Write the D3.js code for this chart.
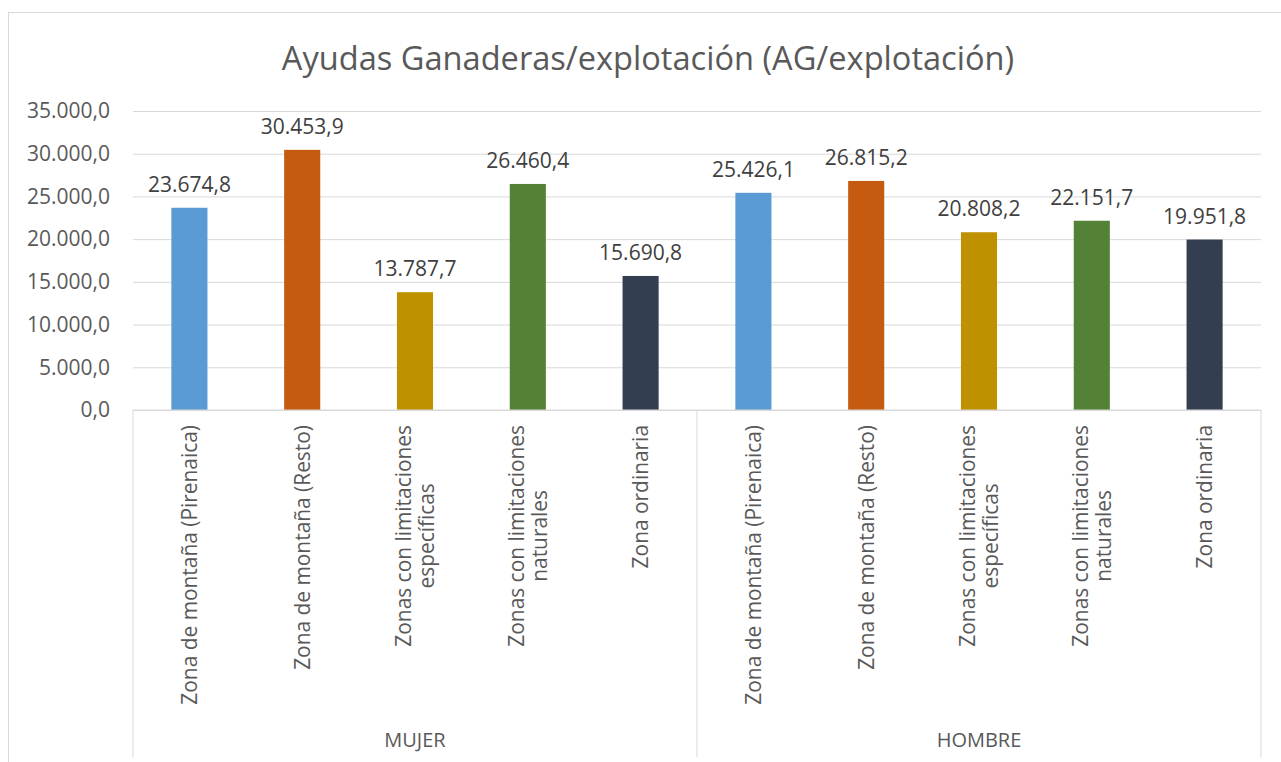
<!DOCTYPE html>
<html>
<head>
<meta charset="utf-8">
<script src="https://cdn.jsdelivr.net/npm/d3@7"></script>
<style>
  body { margin: 0; background: #fff; }
  text { font-family: "Open Sans", sans-serif; }
</style>
</head>
<body>
<div id="chart"></div>
<script>
// data
const title = 'Ayudas Ganaderas/explotación (AG/explotación)';
const groups = ['MUJER', 'HOMBRE'];
const categories = [
  'Zona de montaña (Pirenaica)',
  'Zona de montaña (Resto)',
  'Zonas con limitaciones específicas',
  'Zonas con limitaciones naturales',
  'Zona ordinaria'
];
const mujerValues = [23674.8, 30453.9, 13787.7, 26460.4, 15690.8];
const hombreValues = [25426.1, 26815.2, 20808.2, 22151.7, 19951.8];
const yTicks = [0, 5000, 10000, 15000, 20000, 25000, 30000, 35000];
const colors = ['#5B9BD5', '#C55A11', '#BF9000', '#538135', '#333F50'];

const width = 1281, height = 762;
const margin = {top: 111, right: 20, bottom: 352, left: 133};
const plotW = 1261 - margin.left;
const plotH = 410 - margin.top;
const catFont = 20.9;

const locale = d3.formatLocale({decimal: ',', thousands: '.', grouping: [3], currency: ['', '€']});
const fmt = locale.format(',.1f');

const rows = [];
groups.forEach((g, gi) => {
  const vals = gi === 0 ? mujerValues : hombreValues;
  categories.forEach((c, ci) => rows.push({key: g + '|' + c, group: g, cat: c, ci: ci, value: vals[ci]}));
});

const svg = d3.select('#chart').append('svg')
  .attr('width', width)
  .attr('height', height);

// chart frame
svg.append('rect')
  .attr('x', 8.5).attr('y', 12.5)
  .attr('width', width + 10).attr('height', height + 10)
  .attr('fill', '#fff').attr('stroke', '#D9D9D9');

svg.append('text')
  .attr('x', 648).attr('y', 70)
  .attr('text-anchor', 'middle')
  .attr('font-size', 32.6)
  .attr('fill', '#595959')
  .text(title);

const g = svg.append('g').attr('transform', `translate(${margin.left},${margin.top})`);

const x = d3.scaleBand()
  .domain(rows.map(d => d.key))
  .range([0, plotW])
  .paddingInner(0.68)
  .paddingOuter(0.34);

const y = d3.scaleLinear().domain([0, 35000]).range([plotH, 0]);

// gridlines + y labels
const yAxis = g.append('g')
  .call(d3.axisLeft(y).tickValues(yTicks).tickSize(-plotW).tickFormat(fmt).tickPadding(23));
yAxis.select('.domain').remove();
yAxis.selectAll('.tick line').attr('stroke', '#D9D9D9');
yAxis.selectAll('.tick text').attr('font-size', 21).attr('fill', '#595959');

// bars
g.selectAll('rect.bar').data(rows).join('rect')
  .attr('class', 'bar')
  .attr('x', d => x(d.key))
  .attr('y', d => y(d.value))
  .attr('width', x.bandwidth())
  .attr('height', d => plotH - y(d.value))
  .attr('fill', d => colors[d.ci]);

// value labels
g.selectAll('text.val').data(rows).join('text')
  .attr('class', 'val')
  .attr('x', d => x(d.key) + x.bandwidth() / 2)
  .attr('y', d => y(d.value) - 16)
  .attr('text-anchor', 'middle')
  .attr('font-size', 21)
  .attr('fill', '#404040')
  .text(d => fmt(d.value));

// category axis
const axisG = g.append('g').attr('transform', `translate(0,${plotH})`);
axisG.append('line')
  .attr('x1', 0).attr('x2', plotW)
  .attr('stroke', '#D9D9D9');
const groupW = plotW / groups.length;
d3.range(groups.length + 1).forEach(i => {
  axisG.append('line')
    .attr('x1', i * groupW).attr('x2', i * groupW)
    .attr('y1', 0).attr('y2', 347)
    .attr('stroke', '#D9D9D9');
});

// wrapped, rotated category labels
const lineH = 23;
function wrapWords(label, maxW) {
  const tmp = svg.append('text').attr('font-size', catFont);
  const words = label.split(' ');
  const lines = [];
  let cur = '';
  words.forEach(w => {
    const test = cur ? cur + ' ' + w : w;
    tmp.text(test);
    if (tmp.node().getComputedTextLength() > maxW && cur) {
      lines.push(cur);
      cur = w;
    } else cur = test;
  });
  lines.push(cur);
  const widths = lines.map(l => { tmp.text(l); return tmp.node().getComputedTextLength(); });
  tmp.remove();
  return {lines, widths};
}

rows.forEach(d => {
  const {lines, widths} = wrapWords(d.cat, 300);
  const maxW = d3.max(widths);
  const cx = x(d.key) + x.bandwidth() / 2;
  const lg = axisG.append('g')
    .attr('transform', `translate(${cx},15) rotate(-90)`);
  lines.forEach((l, i) => {
    lg.append('text')
      .attr('x', -(maxW - widths[i]) / 2)
      .attr('y', (i - (lines.length - 1) / 2) * lineH)
      .attr('dy', '0.35em')
      .attr('text-anchor', 'end')
      .attr('font-size', catFont)
      .attr('fill', '#595959')
      .text(l);
  });
});

// group labels
groups.forEach((gr, i) => {
  axisG.append('text')
    .attr('x', i * groupW + groupW / 2)
    .attr('y', 337)
    .attr('text-anchor', 'middle')
    .attr('font-size', 20)
    .attr('fill', '#595959')
    .text(gr);
});
</script>
</body>
</html>
